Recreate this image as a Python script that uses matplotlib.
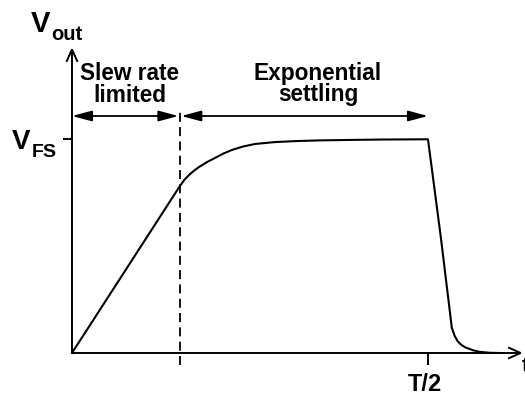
import matplotlib
matplotlib.use("Agg")
import matplotlib.pyplot as plt
from matplotlib.patches import FancyArrowPatch

# ---- data (time in units of T/2, voltage in units of V_FS) ----
t_points = [0.0, 0.303, 0.316, 0.33, 0.342, 0.354, 0.368, 0.38, 0.402, 0.425, 0.449, 0.48, 0.514,
            0.57, 0.635, 0.70, 0.781, 0.88, 1.0,
            1.037, 1.067, 1.075, 1.083, 1.092, 1.104, 1.126, 1.146, 1.174, 1.20]
v_points = [0.0, 0.781, 0.811, 0.835, 0.852, 0.867, 0.882, 0.894, 0.913, 0.933, 0.950, 0.966, 0.978,
            0.987, 0.992, 0.995, 0.997, 0.999, 1.0,
            0.529, 0.117, 0.080, 0.056, 0.040, 0.027, 0.013, 0.005, 0.001, 0.0]

T_SLEW = 0.303        # end of slew-rate-limited region
T_HALF = 1.0          # T/2
V_FS = 1.0            # full-scale voltage
X_AXIS_END = 1.267
Y_AXIS_END = 1.432
DIM_Y = 1.109         # height of the dimension arrows
DASH_TOP = 1.137
TICK_LEN_Y = 0.056
TICK_LEN_X = 0.025

label_slew = ["Slew rate", "limited"]
label_exp = ["Exponential", "settling"]
label_thalf = "T/2"

W, H = 525, 399
fig = plt.figure(figsize=(W / 100, H / 100), dpi=100)
ax = fig.add_axes([0, 0, 1, 1])
ax.set_xlim(-0.2022, 1.2725)
ax.set_ylim(-0.2153, 1.6518)
ax.axis("off")

plt.rcParams["lines.scale_dashes"] = False
FONT = "Liberation Sans"
lw_axis = 1.4

# axes with open arrowheads
for (x0, y0, x1, y1) in [(0, 0, X_AXIS_END, 0), (0, 0, 0, Y_AXIS_END)]:
    ax.add_patch(FancyArrowPatch((x0, y0), (x1, y1),
                                 arrowstyle="->,head_length=9,head_width=4",
                                 mutation_scale=1, lw=lw_axis, color="black",
                                 shrinkA=0, shrinkB=0, joinstyle="miter", capstyle="butt"))

# ticks
ax.plot([-TICK_LEN_X, 0], [V_FS, V_FS], color="black", lw=lw_axis, solid_capstyle="butt")
ax.plot([T_HALF, T_HALF], [0, -TICK_LEN_Y], color="black", lw=lw_axis, solid_capstyle="butt")

# dashed divider
ax.plot([T_SLEW, T_SLEW], [-TICK_LEN_Y, DASH_TOP], color="black", lw=1.3,
        dashes=(6.5, 3.8))

# waveform
ax.plot(t_points, v_points, color="black", lw=1.5, solid_joinstyle="round")

# dimension arrows
for (x0, x1) in [(0, T_SLEW - 0.004), (T_SLEW + 0.004, T_HALF)]:
    ax.add_patch(FancyArrowPatch((x0, DIM_Y), (x1, DIM_Y),
                                 arrowstyle="<|-|>,head_length=12,head_width=3.2",
                                 mutation_scale=1, lw=1.3, color="black",
                                 shrinkA=0, shrinkB=0))


def P(x, y):
    return (x / W, 1 - y / H)


tf = fig.transFigure
kw = dict(family=FONT, weight="bold", color="black", transform=tf)

# region labels
fs_lab = 16.3
fig.text(*P(130, 80), label_slew[0], ha="center", va="baseline", fontsize=fs_lab, **kw)
fig.text(*P(130, 102), label_slew[1], ha="center", va="baseline", fontsize=fs_lab, **kw)
fig.text(*P(318, 80), label_exp[0], ha="center", va="baseline", fontsize=fs_lab, **kw)
fig.text(*P(318, 101), label_exp[1], ha="center", va="baseline", fontsize=fs_lab, **kw)

# V_out
fig.text(*P(31, 32), "V", ha="left", va="baseline", fontsize=21, **kw)
fig.text(*P(51, 40), "out", ha="left", va="baseline", fontsize=14.5, **kw)

# V_FS
fig.text(*P(12, 149), "V", ha="left", va="baseline", fontsize=20, **kw)
fig.text(*P(32, 157), "FS", ha="left", va="baseline", fontsize=14, **kw)

# T/2 and t (t is cut by the right edge, as in the reference)
fig.text(*P(425, 391), label_thalf, ha="center", va="baseline", fontsize=17, **kw)
fig.text(*P(522, 372), "t", ha="left", va="baseline", fontsize=16, **kw)

fig.savefig("out.png", dpi=100)
